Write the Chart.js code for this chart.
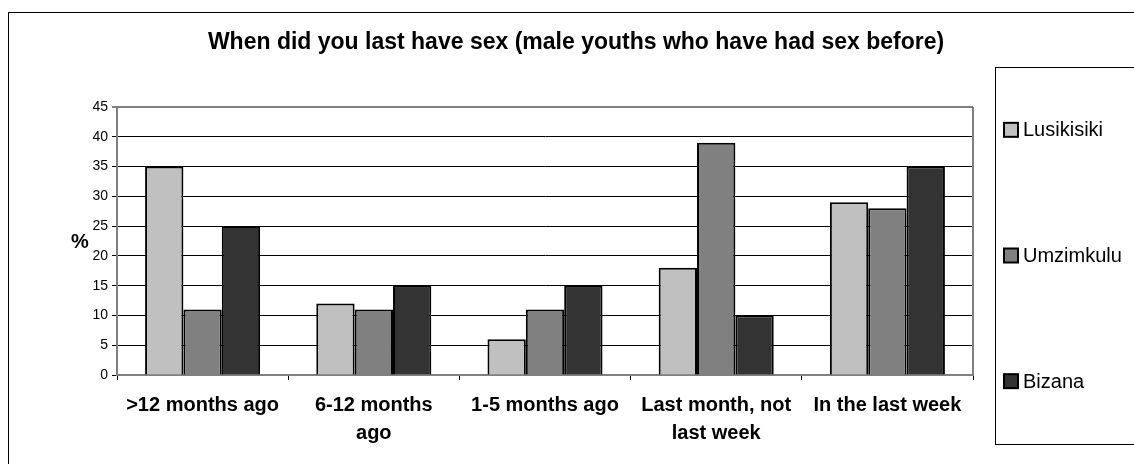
<!DOCTYPE html>
<html>
<head>
<meta charset="utf-8">
<script src="https://cdn.jsdelivr.net/npm/chart.js@4"></script>
<style>
  body { margin: 0; background: #fff; }
  #wrap { width: 1134px; height: 464px; position: relative; }
</style>
</head>
<body>
<div id="wrap"><canvas id="sexChart"></canvas></div>
<script>
const categories = [['>12 months ago'], ['6-12 months', 'ago'], ['1-5 months ago'], ['Last month, not', 'last week'], ['In the last week']];
const lusikisiki = [35, 12, 6, 18, 29];
const umzimkulu = [11, 11, 11, 39, 28];
const bizana = [25, 15, 15, 10, 35];
const yTicks = [0, 5, 10, 15, 20, 25, 30, 35, 40, 45];

const FONT = '"Liberation Sans", Arial, sans-serif';

// frame, title, "%" label, plot border and the tall legend box
const decorations = {
  id: 'decorations',
  beforeDraw(chart) {
    const ctx = chart.ctx;
    ctx.save();
    ctx.fillStyle = '#fff';
    ctx.fillRect(0, 0, chart.width, chart.height);
    ctx.strokeStyle = '#000';
    ctx.lineWidth = 1;
    ctx.strokeRect(8.5, 12.5, 1140, 470);
    ctx.restore();
  },
  afterDraw(chart) {
    const ctx = chart.ctx;
    const area = chart.chartArea;
    ctx.save();

    ctx.fillStyle = '#000';
    ctx.font = 'bold 23px ' + FONT;
    ctx.textAlign = 'center';
    ctx.textBaseline = 'alphabetic';
    ctx.fillText('When did you last have sex (male youths who have had sex before)', 576, 49);

    ctx.font = 'bold 20px ' + FONT;
    ctx.textBaseline = 'middle';
    ctx.fillText('%', 80, 242);

    // plot right border
    ctx.strokeStyle = '#808080';
    ctx.lineWidth = 2;
    ctx.beginPath();
    ctx.moveTo(area.right, area.top);
    ctx.lineTo(area.right, area.bottom);
    ctx.stroke();

    // legend box
    const top = 67, bottom = 444, left = 995;
    ctx.strokeStyle = '#000';
    ctx.lineWidth = 1;
    ctx.strokeRect(left + 0.5, top + 0.5, 200, bottom - top);
    const step = (bottom - top) / chart.data.datasets.length;
    ctx.font = '20px ' + FONT;
    ctx.textAlign = 'left';
    chart.data.datasets.forEach((ds, i) => {
      const cy = top + step * (i + 0.5);
      ctx.fillStyle = ds.backgroundColor;
      ctx.fillRect(1004, cy - 7, 14, 14);
      ctx.lineWidth = 2;
      ctx.strokeStyle = '#000';
      ctx.strokeRect(1004, cy - 7, 14, 14);
      ctx.fillStyle = '#000';
      ctx.fillText(ds.label, 1023, cy + 1);
    });
    ctx.restore();
  }
};

const barStyle = { borderColor: '#000', borderWidth: 2, barPercentage: 1, categoryPercentage: 0.672 };

new Chart(document.getElementById('sexChart'), {
  type: 'bar',
  data: {
    labels: categories,
    datasets: [
      { label: 'Lusikisiki', data: lusikisiki, backgroundColor: '#c0c0c0', ...barStyle },
      { label: 'Umzimkulu', data: umzimkulu, backgroundColor: '#808080', ...barStyle },
      { label: 'Bizana', data: bizana, backgroundColor: '#333333', ...barStyle }
    ]
  },
  options: {
    responsive: true,
    maintainAspectRatio: false,
    animation: false,
    layout: { padding: { left: 0, top: 107, right: 161, bottom: 0 } },
    plugins: {
      legend: { display: false },
      title: { display: false },
      tooltip: { enabled: false }
    },
    scales: {
      x: {
        afterFit: scale => { scale.height = 89; },
        grid: { offset: true, drawOnChartArea: false, color: '#000', tickLength: 5 },
        border: { color: '#808080', width: 2 },
        ticks: {
          color: '#000',
          padding: 11,
          maxRotation: 0,
          autoSkip: false,
          font: { family: FONT, size: 20, weight: 'bold', lineHeight: 1.4 }
        }
      },
      y: {
        min: 0,
        max: 45,
        afterFit: scale => { scale.width = 117; },
        afterBuildTicks: scale => { scale.ticks = yTicks.map(v => ({ value: v })); },
        grid: {
          color: c => (c.tick && c.tick.value === 45 ? '#808080' : '#000'),
          lineWidth: c => (c.tick && c.tick.value === 45 ? 2 : 1),
          tickLength: 5
        },
        border: { color: '#808080', width: 2 },
        ticks: {
          color: '#000',
          padding: 4,
          font: { family: FONT, size: 14 }
        }
      }
    }
  },
  plugins: [decorations]
});
</script>
</body>
</html>
